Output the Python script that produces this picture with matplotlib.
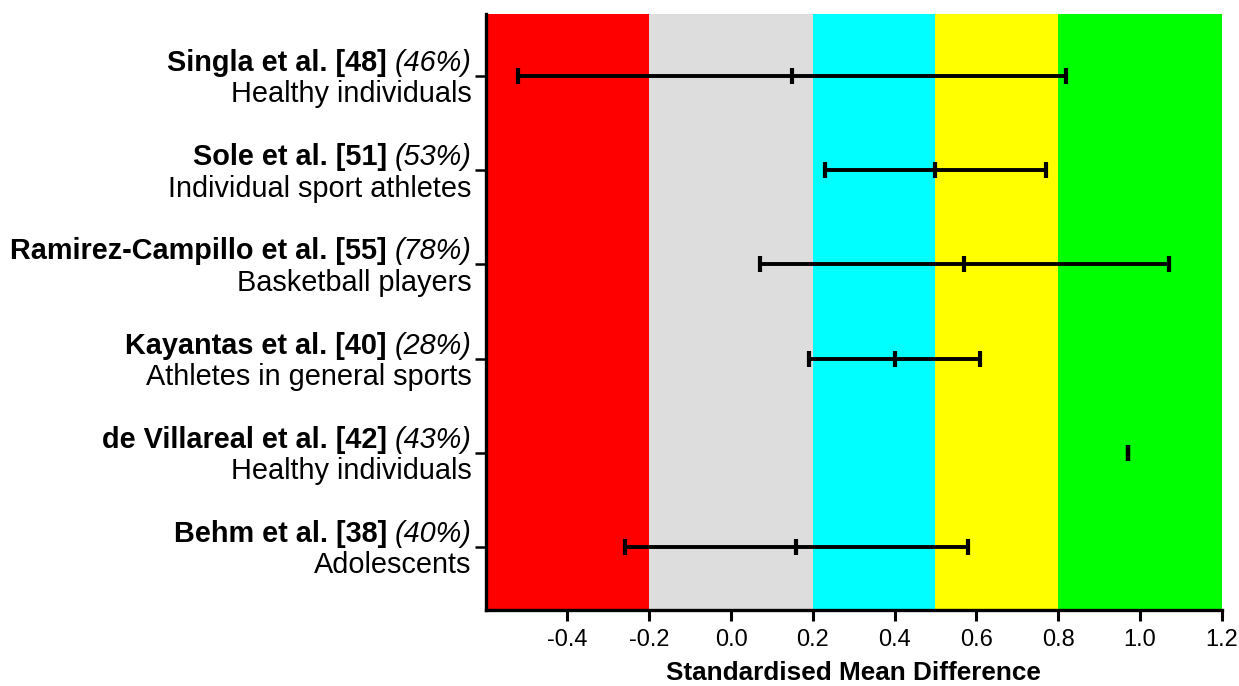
import matplotlib
matplotlib.use("Agg")
import matplotlib.pyplot as plt
import matplotlib.transforms as mtransforms

plt.rcParams['font.family'] = ['Liberation Sans', 'DejaVu Sans']

# study info, top to bottom
studies = ['Singla et al. [48]', 'Sole et al. [51]', 'Ramirez-Campillo et al. [55]',
           'Kayantas et al. [40]', 'de Villareal et al. [42]', 'Behm et al. [38]']
weights = ['(46%)', '(53%)', '(78%)', '(28%)', '(43%)', '(40%)']
populations = ['Healthy individuals', 'Individual sport athletes', 'Basketball players',
               'Athletes in general sports', 'Healthy individuals', 'Adolescents']
smd_mean = [0.15, 0.50, 0.57, 0.40, 0.97, 0.16]
smd_low = [-0.52, 0.23, 0.07, 0.19, 0.97, -0.26]
smd_high = [0.82, 0.77, 1.07, 0.61, 0.97, 0.58]

# effect size bands
band_edges = [-0.6, -0.2, 0.2, 0.5, 0.8, 1.2]
band_colors = ['#ff0000', '#dddddd', '#00ffff', '#ffff00', '#00ff00']
xticks = [-0.4, -0.2, 0.0, 0.2, 0.4, 0.6, 0.8, 1.0, 1.2]

fig = plt.figure(figsize=(12.39, 6.86), dpi=100)
ax = fig.add_axes([0.392, 0.1108, 0.594, 0.8688])

for i in range(len(band_colors)):
    ax.axvspan(band_edges[i], band_edges[i + 1], color=band_colors[i], lw=0, zorder=0)

n = len(studies)
ypos = list(range(n, 0, -1))

for y, lo, m, hi in zip(ypos, smd_low, smd_mean, smd_high):
    ax.plot([lo, hi], [y, y], color='black', lw=2.8, zorder=3, solid_capstyle='butt')
    ax.plot([lo, m, hi], [y, y, y], ls='none', marker='|', color='black',
            markersize=11, markeredgewidth=3, zorder=4)

ax.set_xlim(-0.6, 1.2)
ax.set_ylim(0.33, 6.66)
ax.set_xticks(xticks)
ax.set_xticklabels([f'{t:.1f}' for t in xticks], fontsize=17)
ax.set_yticks(ypos)
ax.set_yticklabels([])
ax.tick_params(axis='x', length=8, width=2.2, pad=6)
ax.tick_params(axis='y', length=8, width=1.8)

for s in ['top', 'right']:
    ax.spines[s].set_visible(False)
for s in ['left', 'bottom']:
    ax.spines[s].set_linewidth(2.4)

ax.set_xlabel('Standardised Mean Difference', fontsize=18.8, fontweight='bold', labelpad=7)

# two-line labels on the left
trans = mtransforms.blended_transform_factory(ax.transAxes, ax.transData)
off = mtransforms.offset_copy(trans, fig=fig, x=-14, y=0, units='dots')
for y, name, w, pop in zip(ypos, studies, weights, populations):
    t_w = ax.text(0, y - 0.01, w, transform=off, ha='right', va='bottom',
                  fontsize=20.8, fontstyle='italic')
    ax.annotate(name + ' ', xy=(0, 0), xycoords=t_w, ha='right', va='bottom',
                fontsize=20.8, fontweight='bold')
    ax.text(0, y - 0.045, pop, transform=off, ha='right', va='top', fontsize=20.8)

fig.savefig('out.png', dpi=100)
